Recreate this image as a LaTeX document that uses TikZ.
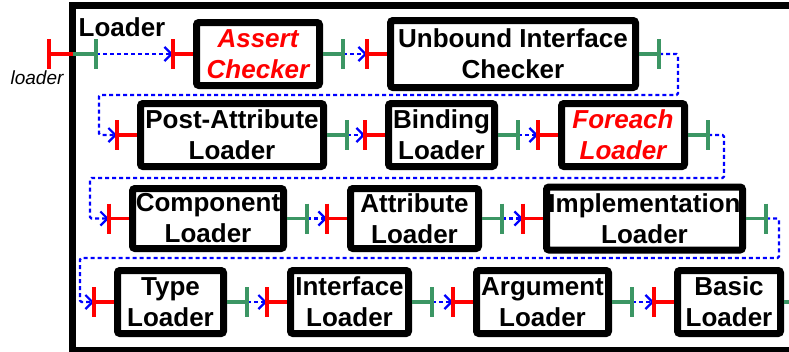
\documentclass[tikz,border=0pt]{standalone}
\usepackage{fontspec}
\setmainfont{Liberation Sans}
\usetikzlibrary{calc,arrows.meta}
\definecolor{pgreen}{RGB}{60,150,100}
\tikzset{
  box/.style={draw, line width=7pt, rounded corners=2.5pt, align=center, inner sep=0pt, outer sep=3.5pt,
    font=\bfseries\fontsize{26}{31}\selectfont},
  redbox/.style={box, text=red, font=\bfseries\itshape\fontsize{26}{31}\selectfont},
  redline/.style={draw=red, line width=3.4pt},
  greenline/.style={draw=pgreen, line width=3.4pt},
  flow/.style={draw=blue, line width=2.2pt, dash pattern=on 4pt off 3pt, rounded corners=1.5pt,
    -{Straight Barb[length=7pt,width=14pt,line width=2.2pt]}},
  wrap/.style={draw=blue, line width=2.2pt, dash pattern=on 4pt off 3pt, rounded corners=1.5pt}
}
\begin{document}
\begin{tikzpicture}[x=1pt,y=-1pt]
\useasboundingbox (0,0) rectangle (789,351);
\clip (0,0) rectangle (789,351);
% outer frame
\draw[line width=7pt] (800,5) -- (72.5,5) -- (72.5,350) -- (800,350);
\node[font=\bfseries\fontsize{26}{31}\selectfont] (title) at (122,27) {Loader};
\node[font=\itshape\fontsize{19}{22}\selectfont] (lbl) at (37,78) {loader};
% boxes
\node[redbox, minimum width=123, minimum height=63] (A) at (258,54) {Assert\\Checker};
\node[box, minimum width=245, minimum height=67] (U) at (513,54) {Unbound Interface\\Checker};
\node[box, minimum width=183, minimum height=63] (P) at (232,135) {Post-Attribute\\Loader};
\node[box, minimum width=106, minimum height=63] (B) at (441.5,135) {Binding\\Loader};
\node[redbox, minimum width=123, minimum height=63] (F) at (623,135) {Foreach\\Loader};
\node[box, minimum width=151, minimum height=60] (C) at (208,218.5) {Component\\Loader};
\node[box, minimum width=128, minimum height=60] (At) at (414.5,218.5) {Attribute\\Loader};
\node[box, minimum width=196, minimum height=63] (Im) at (644.5,218.5) {Implementation\\Loader};
\node[box, minimum width=106, minimum height=63] (T) at (170.5,302) {Type\\Loader};
\node[box, minimum width=118, minimum height=63] (I) at (349.5,302) {Interface\\Loader};
\node[box, minimum width=132, minimum height=63] (Ar) at (542.5,302) {Argument\\Loader};
\node[box, minimum width=103, minimum height=63] (Ba) at (729,302) {Basic\\Loader};
% port coordinates
\foreach \n in {A,U,P,B,F,C,At,Im,T,I,Ar,Ba}{
  \coordinate (\n-i) at ($(\n.west)+(-20,0)$);
  \coordinate (\n-o) at ($(\n.east)+(20,0)$);
}
\coordinate (X-r) at (49,54);
\coordinate (X-f) at (72.5,54);
\coordinate (X-o) at (96,54);
% turning points
\coordinate (w1a) at (678,95);
\coordinate (w1b) at (99,95);
\coordinate (w2a) at (724,178);
\coordinate (w2b) at (90,178);
\coordinate (w3a) at (779,258);
\coordinate (w3b) at (80,258);
% flows
\draw[flow] (X-o) -- (A-i);
\draw[flow] (A-o) -- (U-i);
\draw[flow] (U-o) -| (w1a) -- (w1b) |- (P-i);
\draw[flow] (P-o) -- (B-i);
\draw[flow] (B-o) -- (F-i);
\draw[flow] (F-o) -| (w2a) -- (w2b) |- (C-i);
\draw[flow] (C-o) -- (At-i);
\draw[flow] (At-o) -- (Im-i);
\draw[flow] (Im-o) -| (w3a) -- (w3b) |- (T-i);
\draw[flow] (T-o) -- (I-i);
\draw[flow] (I-o) -- (Ar-i);
\draw[flow] (Ar-o) -- (Ba-i);
% ports
\foreach \n in {A,U,P,B,F,C,At,Im,T,I,Ar,Ba}{
  \draw[redline] (\n.west) -- (\n-i);
  \draw[redline] ($(\n-i)+(0,-15)$) -- ($(\n-i)+(0,15)$);
  \draw[greenline] (\n.east) -- (\n-o);
  \draw[greenline] ($(\n-o)+(0,-15)$) -- ($(\n-o)+(0,15)$);
}
\draw[redline] (X-r) -- (X-f);
\draw[redline] ($(X-r)+(0,-15)$) -- ($(X-r)+(0,15)$);
\draw[greenline] (X-f) -- (X-o);
\draw[greenline] ($(X-o)+(0,-15)$) -- ($(X-o)+(0,15)$);
\end{tikzpicture}
\end{document}
